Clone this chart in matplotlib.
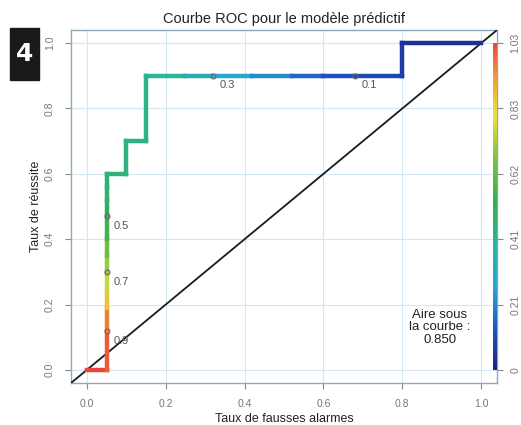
import numpy as np
import matplotlib
matplotlib.use('Agg')
import matplotlib.pyplot as plt
from matplotlib.collections import LineCollection
from matplotlib.colors import LinearSegmentedColormap, Normalize
from matplotlib.cm import ScalarMappable

plt.rcParams['font.family'] = ['Liberation Sans', 'DejaVu Sans']

# ROC path (fpr, tpr) with the cutoff
fpr = [0.0, 0.05, 0.05, 0.05, 0.05, 0.05, 0.05, 0.05, 0.05, 0.05, 0.05,
       0.05, 0.1, 0.1, 0.15, 0.15, 0.25, 0.32, 0.42, 0.52, 0.6, 0.68, 0.8,
       0.8, 1.0]
tpr = [0.0, 0.0, 0.12, 0.19, 0.24, 0.30, 0.35, 0.40, 0.47, 0.52, 0.56,
       0.6, 0.6, 0.7, 0.7, 0.9, 0.9, 0.9, 0.9, 0.9, 0.9, 0.9, 0.9,
       1.0, 1.0]
cutoff = [1.03, 1.0, 0.96, 0.86, 0.76, 0.7, 0.64, 0.57, 0.5, 0.47, 0.46,
          0.45, 0.44, 0.43, 0.42, 0.38, 0.33, 0.28, 0.22, 0.16, 0.12, 0.1, 0.07,
          0.04, 0.02]

# labelled cutoffs
lab_fpr = [0.05, 0.05, 0.05, 0.32, 0.68]
lab_tpr = [0.118, 0.30, 0.47, 0.9, 0.9]
lab_txt = ['0.9', '0.7', '0.5', '0.3', '0.1']

ticks = [0.0, 0.2, 0.4, 0.6, 0.8, 1.0]
tick_lbl = ['0.0', '0.2', '0.4', '0.6', '0.8', '1.0']
cbar_ticks = [0, 0.206, 0.412, 0.618, 0.824, 1.03]
cbar_lbl = ['0', '0.21', '0.41', '0.62', '0.83', '1.03']
auc = 0.850

cmap = LinearSegmentedColormap.from_list('roc', [
    (0.0, '#1c2580'), (0.12, '#1f52c0'), (0.25, '#2aa4d4'),
    (0.38, '#2cb496'), (0.52, '#35ad50'), (0.64, '#78c044'),
    (0.78, '#e8e23e'), (0.9, '#f29a38'), (1.0, '#e8453c')])
norm = Normalize(0, 1.03)

fig = plt.figure(figsize=(5.21, 4.25), dpi=100)
ax = fig.add_axes([0.1363, 0.0988, 0.8177, 0.8306])
ax.set_xlim(-0.04, 1.04)
ax.set_ylim(-0.04, 1.04)

for s in ax.spines.values():
    s.set_color('#8fa9b8')
    s.set_linewidth(1.0)

ax.set_xticks(ticks)
ax.set_xticklabels(tick_lbl)
ax.set_yticks(ticks)
ax.set_yticklabels(tick_lbl, rotation=90, va='center')
ax.tick_params(colors='#8a8a8a', labelcolor='#777777', labelsize=7.5,
               length=4.5, pad=7)
ax.grid(True, color='#d4e6f2', lw=0.8)
ax.set_axisbelow(True)

# diagonal
ax.plot([-0.04, 1.04], [-0.04, 1.04], color='#1a1a1a', lw=1.3, zorder=3)

# coloured ROC curve
pts = np.column_stack([fpr, tpr])
segs = np.stack([pts[:-1], pts[1:]], axis=1)
lc = LineCollection(segs, colors=cmap(norm(np.array(cutoff[:-1]))),
                    linewidths=3.2, capstyle='projecting', zorder=4)
ax.add_collection(lc)

ax.plot(lab_fpr, lab_tpr, 'o', mfc='none', mec='#666666', ms=3.5,
        mew=0.8, zorder=5)
for x, y, t in zip(lab_fpr, lab_tpr, lab_txt):
    ax.annotate(t, (x, y), xytext=(5, -7), textcoords='offset points',
                ha='left', va='center', fontsize=8, color='#555555',
                zorder=6)

ax.text(0.895, 0.13, 'Aire sous\nla courbe :\n%.3f' % auc, ha='center',
        va='center', fontsize=9.5, color='#222222', linespacing=1.05)

# colour key on the right edge
cax = ax.inset_axes([1.029, 0.0, 0.011, 1.0], transform=ax.transData)
cb = fig.colorbar(ScalarMappable(norm=norm, cmap=cmap), cax=cax)
cb.outline.set_visible(False)
cb.set_ticks(cbar_ticks)
cb.set_ticklabels(cbar_lbl)
cax.tick_params(colors='#8a8a8a', labelcolor='#777777', labelsize=7.5,
                length=4.5, pad=5)
for lbl in cax.get_yticklabels():
    lbl.set_rotation(90)
    lbl.set_va('center')

ax.set_title('Courbe ROC pour le modèle prédictif', fontsize=10.5,
             color='#222222', pad=5)
ax.set_xlabel('Taux de fausses alarmes', fontsize=9, color='#222222',
              labelpad=3)
ax.set_ylabel('Taux de réussite', fontsize=9, color='#222222', labelpad=2)

# figure number badge
fig.patches.append(plt.Rectangle((0.0192, 0.8118), 0.0557, 0.1224,
                                 transform=fig.transFigure,
                                 color='#1a1a1a', zorder=10))
fig.text(0.047, 0.873, '4', color='white', fontsize=18, fontweight='bold',
         family='DejaVu Sans', ha='center', va='center', zorder=11)

fig.savefig('out.png', dpi=100)
